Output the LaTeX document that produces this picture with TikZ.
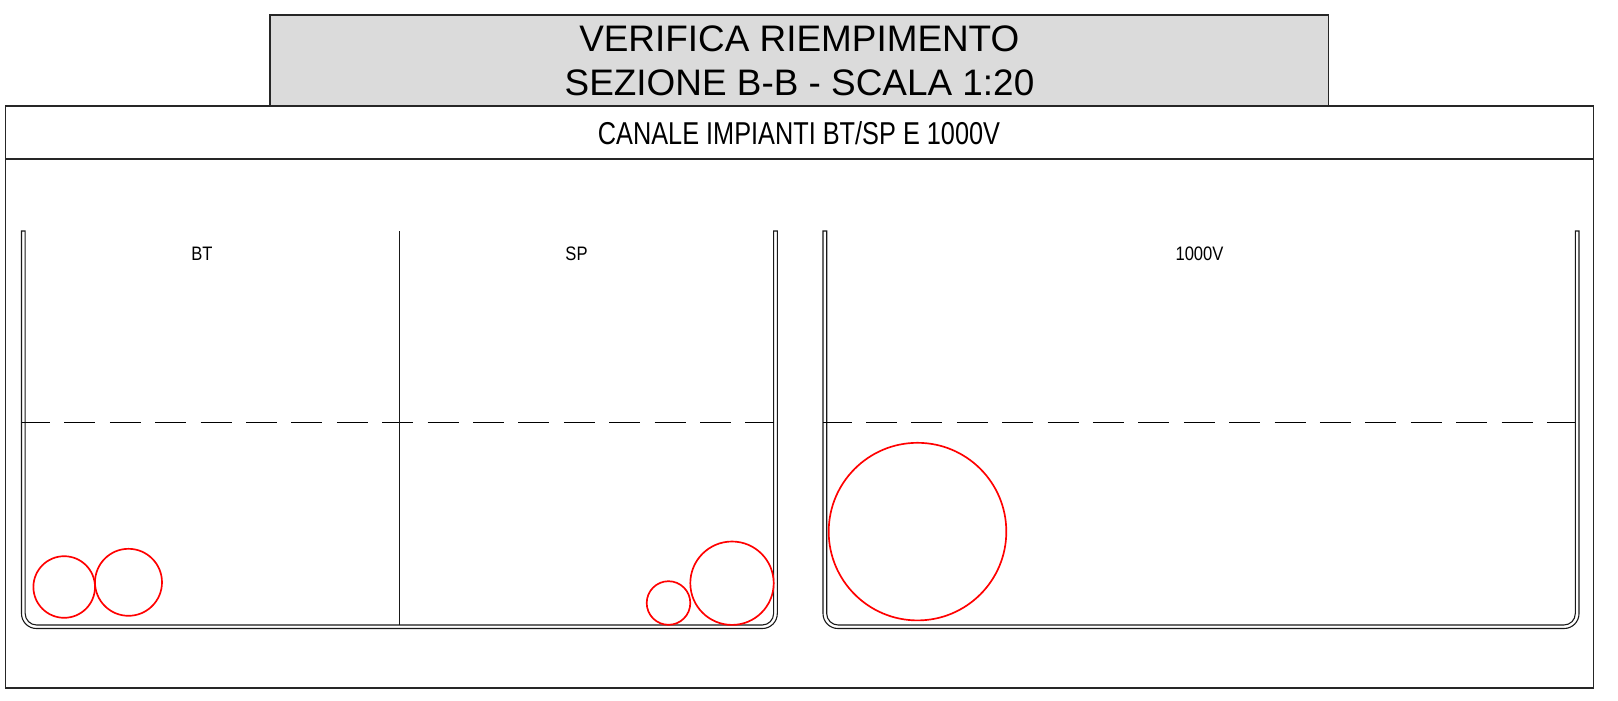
\documentclass[tikz,border=0pt]{standalone}
\usepackage{fontspec}
\setmainfont{Liberation Sans}
\definecolor{titlegray}{HTML}{DBDBDB}
\tikzset{
	frameline/.style={black!85, line width=0.95pt},
	channelline/.style={black!90, line width=0.62pt},
	levelline/.style={black, line width=0.62pt, dash pattern=on 31*0.5691pt off 14.4*0.5691pt, dash phase=2.4*0.5691pt},
	cable/.style={red, line width=0.95pt},
	titletext/.style={anchor=base, inner sep=0pt, font=\fontsize{21}{25}\selectfont},
	headertext/.style={anchor=base, inner sep=0pt, xscale=0.8, font=\fontsize{18}{22}\selectfont},
	sectiontext/.style={anchor=base, inner sep=0pt, xscale=0.85, font=\fontsize{11.1}{13}\selectfont}
}

\begin{document}
\begin{tikzpicture}[x=0.02cm, y=-0.02cm]
	\useasboundingbox (0,0) rectangle (1618,700);

	% Title box
	\draw[frameline, fill=titlegray] (269.8,15.2) rectangle (1328.5,105.8);
	\node[titletext] (title1) at (799.3,51) {VERIFICA RIEMPIMENTO};
	\node[titletext] (title2) at (799.5,95.7) {SEZIONE B-B - SCALA 1:20};

	% Outer frame and header
	\draw[frameline] (5.5,105.8) rectangle (1593.5,688);
	\draw[frameline] (5.5,158.8) -- (1593.5,158.8);
	\node[headertext] (header) at (799,144.5) {CANALE IMPIANTI BT/SP E 1000V};

	% Channels
	\foreach \xa/\xb in {21.5/777.3, 823/1579} {
		\draw[channelline] (\xa,231) [rounded corners=8.5pt] -- (\xa,628.5) -- (\xb,628.5)
		[sharp corners] -- (\xb,231) -- (\xb-3.7,231)
		[rounded corners=6.5pt] -- (\xb-3.7,625) -- (\xa+3.7,625)
		[sharp corners] -- (\xa+3.7,231) -- cycle;
		% Fill level
		\draw[levelline] (\xa,422.3) -- (\xb-3.7,422.3);
	}

	% Divider BT / SP
	\draw[channelline] (399.5,231) -- (399.5,625);

	% Section labels
	\node[sectiontext] (bt) at (202,260.3) {BT};
	\node[sectiontext] (sp) at (576.5,260.3) {SP};
	\node[sectiontext] (hv) at (1199.5,260.3) {1000V};

	% Cables
	\draw[cable] (64.2,587) circle (30.8);
	\draw[cable] (128.5,582.3) circle (33.5);
	\draw[cable] (668.5,603) circle (21.8);
	\draw[cable] (732,583.2) circle (41.7);
	\draw[cable] (917.5,531.6) circle (88.8);
\end{tikzpicture}
\end{document}
